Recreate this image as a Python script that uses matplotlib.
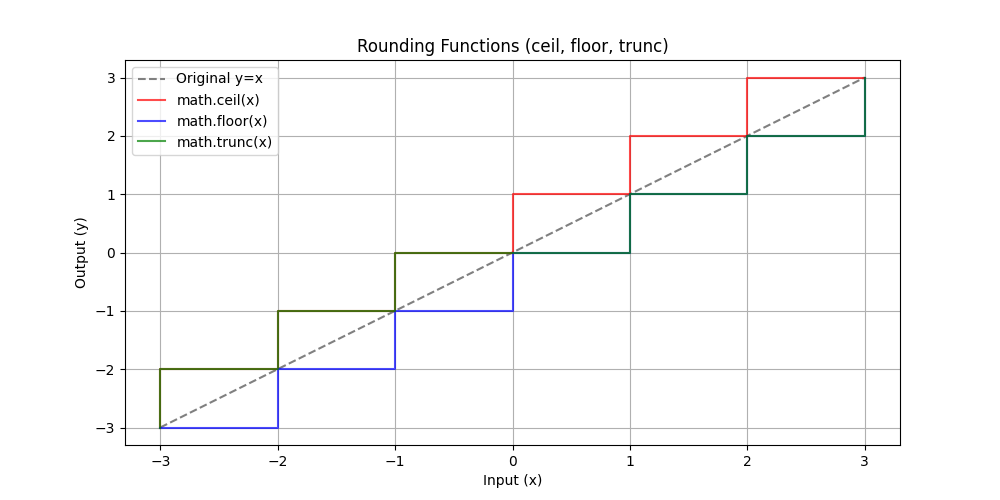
import matplotlib
matplotlib.use("Agg")
import matplotlib.pyplot as plt

# breakpoints
line_x = [-3, 3]
line_y = [-3, 3]

ceil_x = [-3, -3, -2, -2, -1, -1, 0, 0, 1, 1, 2, 2, 3]
ceil_y = [-3, -2, -2, -1, -1, 0, 0, 1, 1, 2, 2, 3, 3]

floor_x = [-3, -2, -2, -1, -1, 0, 0, 1, 1, 2, 2, 3, 3]
floor_y = [-3, -3, -2, -2, -1, -1, 0, 0, 1, 1, 2, 2, 3]

trunc_x = [-3, -3, -2, -2, -1, -1, 1, 1, 2, 2, 3, 3]
trunc_y = [-3, -2, -2, -1, -1, 0, 0, 1, 1, 2, 2, 3]

fig, ax = plt.subplots(figsize=(10, 5))
ax.plot(line_x, line_y, '--', color='gray', label='Original y=x')
ax.plot(ceil_x, ceil_y, color='red', alpha=0.7, label='math.ceil(x)')
ax.plot(floor_x, floor_y, color='blue', alpha=0.7, label='math.floor(x)')
ax.plot(trunc_x, trunc_y, color='green', alpha=0.7, label='math.trunc(x)')

ax.set(xlabel='Input (x)', ylabel='Output (y)', title='Rounding Functions (ceil, floor, trunc)')
ax.grid(True)
ax.legend(loc='upper left')

fig.savefig('out.png', dpi=100)
